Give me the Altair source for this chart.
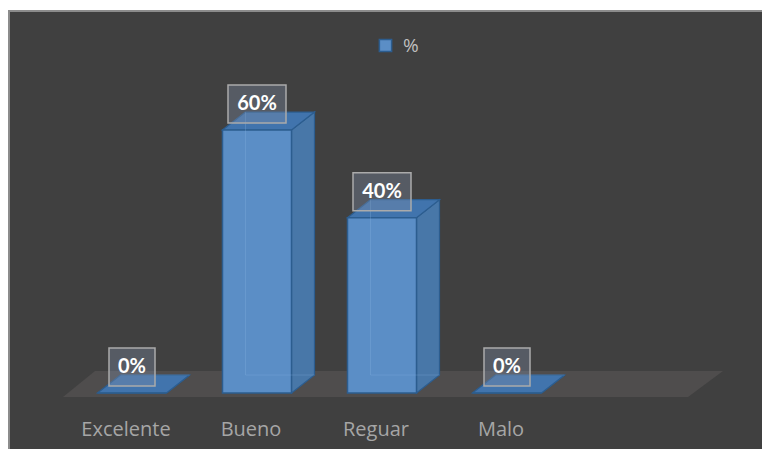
import altair as alt
import pandas as pd

# ---- data ----
categories = ["Excelente", "Bueno", "Reguar", "Malo"]
values = [0, 60, 40, 0]
series_name = "%"

# ---- geometry helpers (in scale units) ----
W, H = 754, 441
HW = 0.276      # half bar width (category units)
DX = 0.184      # 3D depth, x (category units)
DY = 4.1        # 3D depth, y (% units)
PX_PER = (385 - 122) / 60.0

idx = list(range(len(categories)))
labels = [f"{v}%" for v in values]

front = pd.DataFrame({
    "cat": categories, "i": idx, "v": values,
    "x": [i - HW for i in idx], "x2": [i + HW for i in idx],
    "serie": [series_name] * len(categories),
})

side_rows, top_rows = [], []
for c, i, v in zip(categories, idx, values):
    side_rows.append({"cat": c, "x": i + HW, "y": 0, "y2": v})
    side_rows.append({"cat": c, "x": i + HW + DX, "y": DY, "y2": v + DY})
    top_rows.append({"cat": c, "y": v, "x": i - HW, "x2": i + HW})
    top_rows.append({"cat": c, "y": v + DY, "x": i - HW + DX, "x2": i + HW + DX})
side = pd.DataFrame(side_rows)
top = pd.DataFrame(top_rows)

back = pd.DataFrame({
    "cat": categories, "v": values,
    "bx": [i - HW + DX for i in idx], "bx2": [i + HW + DX for i in idx],
    "by": [DY] * len(categories), "by2": [v + DY for v in values],
})

n = len(categories)
floor = pd.DataFrame({
    "y": [-0.91, 5.02],
    "x": [-0.552, -0.296],
    "x2": [n - 1 + 1.448, n - 1 + 1.728],
})

boxes = pd.DataFrame({
    "cat": categories, "i": idx, "v": values, "label": labels,
    "bx": [i - (0.232 if len(l) > 2 else 0.184) for i, l in zip(idx, labels)],
    "bx2": [i + (0.232 if len(l) > 2 else 0.184) for i, l in zip(idx, labels)],
    "by": [v + 7 / PX_PER for v in values],
    "by2": [v + 45 / PX_PER for v in values],
    "ty": [v + 26 / PX_PER for v in values],
})

xs = alt.Scale(domain=[0, 3], range=[124, 499], zero=False, nice=False)
ys = alt.Scale(domain=[0, 60], range=[385, 122], zero=False, nice=False)
X = lambda f: alt.X(f, type="quantitative", scale=xs, axis=None)
Y = lambda f: alt.Y(f, type="quantitative", scale=ys, axis=None)

one = pd.DataFrame({"a": [0]})
bg = alt.Chart(one).mark_rect(fill="#404040").encode(
    x=alt.value(0), x2=alt.value(W), y=alt.value(2), y2=alt.value(H))
border_top = alt.Chart(one).mark_rule(color="#8c8c8c", strokeWidth=2).encode(
    x=alt.value(0), x2=alt.value(W), y=alt.value(3))
border_left = alt.Chart(one).mark_rule(color="#8c8c8c", strokeWidth=2).encode(
    x=alt.value(1), y=alt.value(2), y2=alt.value(H))

floor_layer = alt.Chart(floor).mark_area(orient="horizontal", fill="#4f4d4d").encode(
    y=Y("y"), x=X("x"), x2="x2")

side_layer = alt.Chart(side).mark_area(
    orient="vertical", fill="#4877a8", stroke="#2c5d8f", strokeWidth=1.2
).encode(x=X("x"), y=Y("y"), y2="y2", detail="cat:N")

top_layer = alt.Chart(top).mark_area(
    orient="horizontal", fill="#4174ad", stroke="#2c5d8f", strokeWidth=1.2
).encode(y=Y("y"), x=X("x"), x2="x2", detail="cat:N")

front_layer = alt.Chart(front).mark_rect(stroke="#2c5d8f", strokeWidth=1.5).encode(
    x=X("x"), x2="x2", y=Y("v"), y2=alt.Y2(datum=0),
    color=alt.Color("serie:N", scale=alt.Scale(range=["#5b8ec6"]),
                    legend=alt.Legend(title=None, orient="none", legendX=368, legendY=28,
                                      symbolType="square", symbolSize=150,
                                      symbolStrokeColor="#2c5d8f", symbolStrokeWidth=1.5,
                                      labelColor="#bfbfbf", labelFontSize=19, labelFont="Open Sans",
                                      padding=0, labelOffset=8)),
)

back_v = alt.Chart(back).mark_rule(color="#8fbce8", opacity=0.25, strokeWidth=1).encode(
    x=X("bx"), y=Y("by"), y2="by2")
back_h = alt.Chart(back).mark_rule(color="#8fbce8", opacity=0.25, strokeWidth=1).encode(
    x=X("bx"), x2="bx2", y=Y("by"))

box_layer = alt.Chart(boxes).mark_rect(
    fill="#8090a8", fillOpacity=0.35, stroke="#ababab", strokeWidth=1.5
).encode(x=X("bx"), x2="bx2", y=Y("by"), y2="by2")

text_layer = alt.Chart(boxes).mark_text(
    font="Lato", fontWeight="bold", fontSize=20, color="white", baseline="middle", align="center"
).encode(x=X("i"), y=Y("ty"), text="label:N")

cat_layer = alt.Chart(front).mark_text(
    font="Open Sans", fontSize=20, color="#a6a6a6", baseline="middle", align="center", dx=-6
).encode(x=X("i"), y=alt.value(422), text="cat:N")

chart = alt.layer(
    bg, border_top, border_left, floor_layer, side_layer, top_layer, front_layer,
    back_v, back_h, box_layer, text_layer, cat_layer
).properties(
    width=W, height=H, padding=0, autosize=alt.AutoSizeParams(type="none"),
    background="white"
).configure_view(stroke=None)

chart.save("out.html", embed_options={"renderer": "svg", "actions": False})
